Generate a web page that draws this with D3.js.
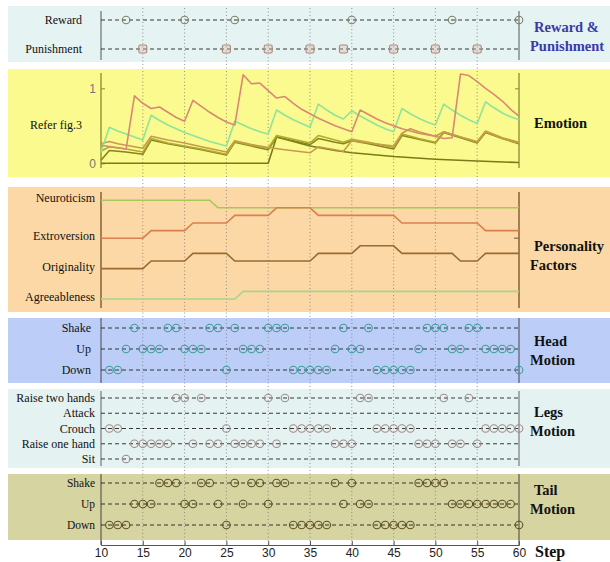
<!DOCTYPE html>
<html><head><meta charset="utf-8">
<script src="https://cdn.jsdelivr.net/npm/d3@7/dist/d3.min.js"></script>
<style>
body{margin:0;background:#fff}
text{font-family:"Liberation Serif","Times New Roman",serif}
.tick text{font-family:"Liberation Sans Narrow","Liberation Sans",Arial,sans-serif}
</style>
</head><body>
<svg id="c" width="610" height="562"></svg>
<script>
// ---------------- DATA ----------------
const xTicks = [10,15,20,25,30,35,40,45,50,55,60];
const gridSteps = [15,20,25,30,35,40,45,50,55];

const rewardRows = ["Reward","Punishment"];
const rewardSteps = [13,20,26,40,52,60];
const punishSteps = [15,25,30,35,39,45,50,55];

// emotion curves: [step, value]
const emoRed = [[10,0.24],[13,0.19],[14,0.90],[15,0.80],[16,0.73],[17,0.75],[18,0.68],[19,0.61],[20,0.56],[21,0.84],[22,0.76],[23,0.68],[24,0.61],[25,0.55],[26,0.51],[27,1.18],[28,1.06],[29,1.07],[30,0.97],[31,0.87],[32,0.89],[33,0.80],[34,0.72],[35,0.66],[36,0.60],[37,0.55],[38,0.50],[39,0.46],[40,0.42],[41,0.71],[42,0.65],[43,0.59],[44,0.54],[45,0.50],[46,0.46],[47,0.43],[48,0.40],[49,0.38],[50,0.36],[51,0.33],[52,0.34],[53,1.19],[54,1.17],[55,1.09],[56,1.00],[57,0.92],[58,0.83],[59,0.72],[60,0.63]];
const emoGreen = [[10,0.15],[11,0.48],[12,0.43],[13,0.39],[14,0.35],[15,0.31],[16,0.64],[17,0.57],[18,0.51],[19,0.46],[20,0.41],[21,0.37],[22,0.33],[23,0.29],[24,0.26],[25,0.23],[26,0.56],[27,0.51],[28,0.46],[29,0.42],[30,0.39],[31,0.71],[32,0.64],[33,0.58],[34,0.53],[35,0.48],[36,0.79],[37,0.71],[38,0.64],[39,0.59],[40,0.70],[41,0.63],[42,0.57],[43,0.51],[44,0.46],[45,0.42],[46,0.73],[47,0.66],[48,0.60],[49,0.55],[50,0.51],[51,0.79],[52,0.71],[53,0.64],[54,0.58],[55,0.53],[56,0.82],[57,0.74],[58,0.67],[59,0.62],[60,0.58]];
const emoTan = [[10,0.26],[11,0.29],[12,0.26],[13,0.24],[14,0.22],[15,0.20],[16,0.36],[18,0.31],[20,0.27],[22,0.22],[25,0.15],[26,0.30],[28,0.25],[30,0.21],[32,0.18],[35,0.14],[36,0.22],[38,0.18],[39,0.16],[40,0.30],[42,0.27],[45,0.23],[46,0.40],[47,0.46],[48,0.42],[50,0.36],[51,0.42],[53,0.35],[55,0.29],[56,0.43],[58,0.34],[60,0.28]];
const emoOlive = [[10,0.16],[11,0.22],[13,0.19],[15,0.15],[16,0.33],[18,0.27],[20,0.23],[22,0.19],[25,0.12],[26,0.29],[28,0.24],[30,0.20],[31,0.37],[33,0.32],[35,0.27],[36,0.37],[38,0.31],[39,0.28],[40,0.32],[42,0.28],[45,0.21],[46,0.39],[48,0.33],[50,0.28],[51,0.42],[53,0.35],[55,0.28],[56,0.42],[58,0.33],[60,0.27]];
const emoDark = [[10,0.04],[11,0.17],[13,0.15],[15,0.12],[16,0.31],[18,0.26],[20,0.22],[22,0.18],[25,0.11],[26,0.28],[28,0.23],[30,0.18],[31,0.35],[33,0.30],[35,0.25],[36,0.33],[38,0.28],[39,0.26],[40,0.30],[42,0.26],[45,0.19],[46,0.37],[48,0.32],[50,0.27],[51,0.41],[53,0.34],[55,0.27],[56,0.41],[58,0.33],[60,0.26]];
const emoBase = [[10,0],[30,0],[31,0.35],[33,0.29],[35,0.23],[38,0.17],[40,0.14],[45,0.09],[50,0.055],[55,0.03],[60,0.01]];
const emoTickValues = [0,1];

// personality levels: [step, level]
const persNames = ["Neuroticism","Extroversion","Originality","Agreeableness"];
const persNeuro = [[10,13],[23,13],[24,12],[60,12]];
const persExtro = [[10,8],[15,8],[16,9],[20,9],[21,10],[25,10],[26,11],[30,11],[31,12],[35,12],[36,11],[45,11],[46,10],[55,10],[56,9],[60,9]];
const persOrig = [[10,4],[15,4],[16,5],[20,5],[21,6],[25,6],[26,5],[35,5],[36,6],[40,6],[41,7],[45,7],[46,6],[52,6],[53,5],[55,5],[56,6],[60,6]];
const persAgree = [[10,0],[26,0],[27,1],[60,1]];
const persLabelLevels = [13,8,4,0];

const headRows = ["Shake","Up","Down"];
const headShake = [14,18,19,23,24,26,30,31,32,39,42,49,50,51,54,55];
const headUp = [13,15,16,17,20,21,22,27,28,29,38,40,41,48,52,53,56,57,58,59];
const headDown = [11,12,25,33,34,35,36,37,43,44,45,46,47,60];

const legRows = ["Raise two hands","Attack","Crouch","Raise one hand","Sit"];
const legRaiseTwo = [19,20,22,30,32,41,42,51,54];
const legAttack = [];
const legCrouch = [11,12,25,33,34,35,36,37,43,44,45,46,47,56,57,58,59,60];
const legRaiseOne = [14,15,16,17,18,21,23,24,26,27,28,29,31,38,39,40,48,49,50,52,53,55];
const legSit = [13];

const tailRows = ["Shake","Up","Down"];
const tailShake = [17,18,19,22,23,26,28,29,31,32,38,40,48,49,50,51];
const tailUp = [14,15,16,20,21,24,27,30,39,41,42,52,53,54,55,56,57,58,59];
const tailDown = [11,12,13,25,33,34,35,36,37,43,44,45,46,47,60];

// ---------------- DRAW ----------------
const svg = d3.select("#c");
const x = d3.scaleLinear().domain([10,60]).range([101,519]);
const XL = 101, XR = 519;

const panels = [
  {y0:6,   y1:62,  fill:"#e6f3f3"},
  {y0:69,  y1:177, fill:"#fafa8e"},
  {y0:187, y1:312, fill:"#fbd8a5"},
  {y0:318, y1:383, fill:"#bccef7"},
  {y0:389, y1:468, fill:"#e4f2f2"},
  {y0:474, y1:540, fill:"#d6d4a1"}
];
svg.selectAll("rect.bg").data(panels).join("rect").attr("class","bg")
  .attr("x",8).attr("width",602).attr("y",d=>d.y0).attr("height",d=>d.y1-d.y0)
  .attr("fill",d=>d.fill);

// dotted grid
svg.selectAll("line.grid").data(gridSteps).join("line").attr("class","grid")
  .attr("x1",d=>x(d)).attr("x2",d=>x(d)).attr("y1",8).attr("y2",545)
  .attr("stroke","#7a7a7a").attr("stroke-width",0.8).attr("stroke-dasharray","1,2.5");

function vAxes(y0,y1,color,w){
  [XL,XR].forEach(xx=>svg.append("line").attr("x1",xx).attr("x2",xx).attr("y1",y0).attr("y2",y1)
    .attr("stroke",color).attr("stroke-width",w||1.2));
}
function leftLabels(scale,rows,xEnd,size){
  svg.append("g").selectAll("text").data(rows).join("text")
    .attr("x",xEnd).attr("y",d=>scale(d)).attr("text-anchor","end").attr("dominant-baseline","central")
    .attr("font-size",size||12).attr("fill","#111").text(d=>d);
}
function rowLines(scale,rows){
  svg.append("g").selectAll("line").data(rows).join("line")
    .attr("x1",XL).attr("x2",XR).attr("y1",d=>scale(d)).attr("y2",d=>scale(d))
    .attr("stroke","#222").attr("stroke-width",0.9).attr("stroke-dasharray","4,3");
}
function circles(scale,row,steps,color){
  svg.append("g").selectAll("circle").data(steps).join("circle")
    .attr("cx",d=>x(d)).attr("cy",scale(row)).attr("r",3.8)
    .attr("fill","none").attr("stroke",color).attr("stroke-width",1.1);
}
function rightLabel(lines,y,color,size){
  const t = svg.append("text").attr("x",533).attr("y",y).attr("font-size",size||14.5)
    .attr("font-weight","bold").attr("fill",color||"#111");
  lines.forEach((l,i)=>t.append("tspan").attr("x",i? 530:534).attr("dy",i?19:0).text(l));
}

// ---- Reward & Punishment
const yRP = d3.scalePoint().domain(rewardRows).range([20,49]);
vAxes(11,60,"#6e6e6e");
rowLines(yRP,rewardRows);
leftLabels(yRP,rewardRows,82,12);
circles(yRP,"Reward",rewardSteps,"#7d7d6c");
svg.append("g").selectAll("rect").data(punishSteps).join("rect")
  .attr("x",d=>x(d)-4).attr("y",yRP("Punishment")-4).attr("width",8).attr("height",8).attr("rx",1.5)
  .attr("fill","#d9b8a8").attr("fill-opacity",0.35).attr("stroke","#b08878").attr("stroke-width",1.1);
rightLabel(["Reward &","Punishment"],32,"#3a3aa8",14.5);

// ---- Emotion
const yE = d3.scaleLinear().domain([0,1]).range([163.3,88.3]);
svg.append("g").attr("transform",`translate(${XL},0)`)
  .call(d3.axisLeft(yE).tickValues(emoTickValues).tickSize(-4).tickPadding(5).tickFormat(d3.format("d")))
  .call(g=>{g.select(".domain").remove();g.selectAll("line").attr("stroke","#8a8a30");
    g.selectAll("text").attr("fill","#777").attr("font-size",12);});
svg.append("g").attr("transform",`translate(${XR},0)`)
  .call(d3.axisRight(yE).tickValues([1]).tickSize(-4).tickFormat(""))
  .call(g=>{g.select(".domain").remove();g.selectAll("line").attr("stroke","#8a8a30");});
vAxes(73,168,"#8a8a30",1.3);
const line = d3.line().x(d=>x(d[0])).y(d=>yE(d[1]));
const emoSeries = [
  {d:emoBase,c:"#7a7a18"},
  {d:emoDark,c:"#858520"},
  {d:emoOlive,c:"#b2ac2e"},
  {d:emoTan,c:"#c89a4e"},
  {d:emoGreen,c:"#8fe39c"},
  {d:emoRed,c:"#d98874"}
];
svg.append("g").selectAll("path").data(emoSeries).join("path")
  .attr("d",s=>line(s.d)).attr("fill","none").attr("stroke",s=>s.c).attr("stroke-width",1.6)
  .attr("stroke-linejoin","round");
svg.append("text").attr("x",82).attr("y",125).attr("text-anchor","end").attr("dominant-baseline","central")
  .attr("font-size",12).attr("fill","#111").text("Refer fig.3");
rightLabel(["Emotion"],128);

// ---- Personality
const yP = d3.scaleLinear().domain([0,13]).range([299,200.2]);
vAxes(192,308,"#8c6a3c",1.6);
svg.append("line").attr("x1",XR-5).attr("x2",XR).attr("y1",yP(8)).attr("y2",yP(8)).attr("stroke","#8c6a3c").attr("stroke-width",1.2);
const pLine = d3.line().x(d=>x(d[0])).y(d=>yP(d[1]));
const persSeries = [
  {d:persNeuro,c:"#a3c957"},
  {d:persAgree,c:"#a9d38f"},
  {d:persOrig,c:"#9a6a32"},
  {d:persExtro,c:"#d9804e"}
];
svg.append("g").selectAll("path").data(persSeries).join("path")
  .attr("d",s=>pLine(s.d)).attr("fill","none").attr("stroke",s=>s.c).attr("stroke-width",1.6);
svg.append("g").selectAll("text").data(persNames).join("text")
  .attr("x",95).attr("y",(d,i)=>yP(persLabelLevels[i])-2).attr("text-anchor","end").attr("dominant-baseline","central")
  .attr("font-size",12).attr("fill","#111").text(d=>d);
rightLabel(["Personality","Factors"],251);

// ---- Head Motion
const yH = d3.scalePoint().domain(headRows).range([328,370]);
vAxes(318,383,"#5a5a6a");
rowLines(yH,headRows);
leftLabels(yH,headRows,91,12);
circles(yH,"Shake",headShake,"#3e9c98");
circles(yH,"Up",headUp,"#3e9c98");
circles(yH,"Down",headDown,"#3e9c98");
rightLabel(["Head","Motion"],346);

// ---- Legs Motion
const yL = d3.scalePoint().domain(legRows).range([398,459]);
vAxes(391,466,"#7a7a7a");
rowLines(yL,legRows);
leftLabels(yL,legRows,95,12);
circles(yL,"Raise two hands",legRaiseTwo,"#a08a86");
circles(yL,"Attack",legAttack,"#a08a86");
circles(yL,"Crouch",legCrouch,"#a08a86");
circles(yL,"Raise one hand",legRaiseOne,"#a08a86");
circles(yL,"Sit",legSit,"#a08a86");
rightLabel(["Legs","Motion"],417);

// ---- Tail Motion
const yT = d3.scalePoint().domain(tailRows).range([483,525]);
vAxes(474,545,"#5a5a50");
rowLines(yT,tailRows);
leftLabels(yT,tailRows,95,11.5);
circles(yT,"Shake",tailShake,"#5e5220");
circles(yT,"Up",tailUp,"#5e5220");
circles(yT,"Down",tailDown,"#5e5220");
rightLabel(["Tail","Motion"],495);

// ---- x axis
svg.append("g").attr("transform","translate(0,545)")
  .call(d3.axisBottom(x).tickValues(xTicks).tickSize(-4).tickPadding(3).tickFormat(d3.format("d")))
  .call(g=>{g.select(".domain").attr("stroke","#555");g.selectAll("line").attr("stroke","#555");
    g.selectAll("text").attr("fill","#222").attr("font-size",12);});
svg.append("text").attr("x",535).attr("y",557).attr("font-size",16).attr("font-weight","bold")
  .attr("fill","#111").text("Step");
</script>
</body></html>
